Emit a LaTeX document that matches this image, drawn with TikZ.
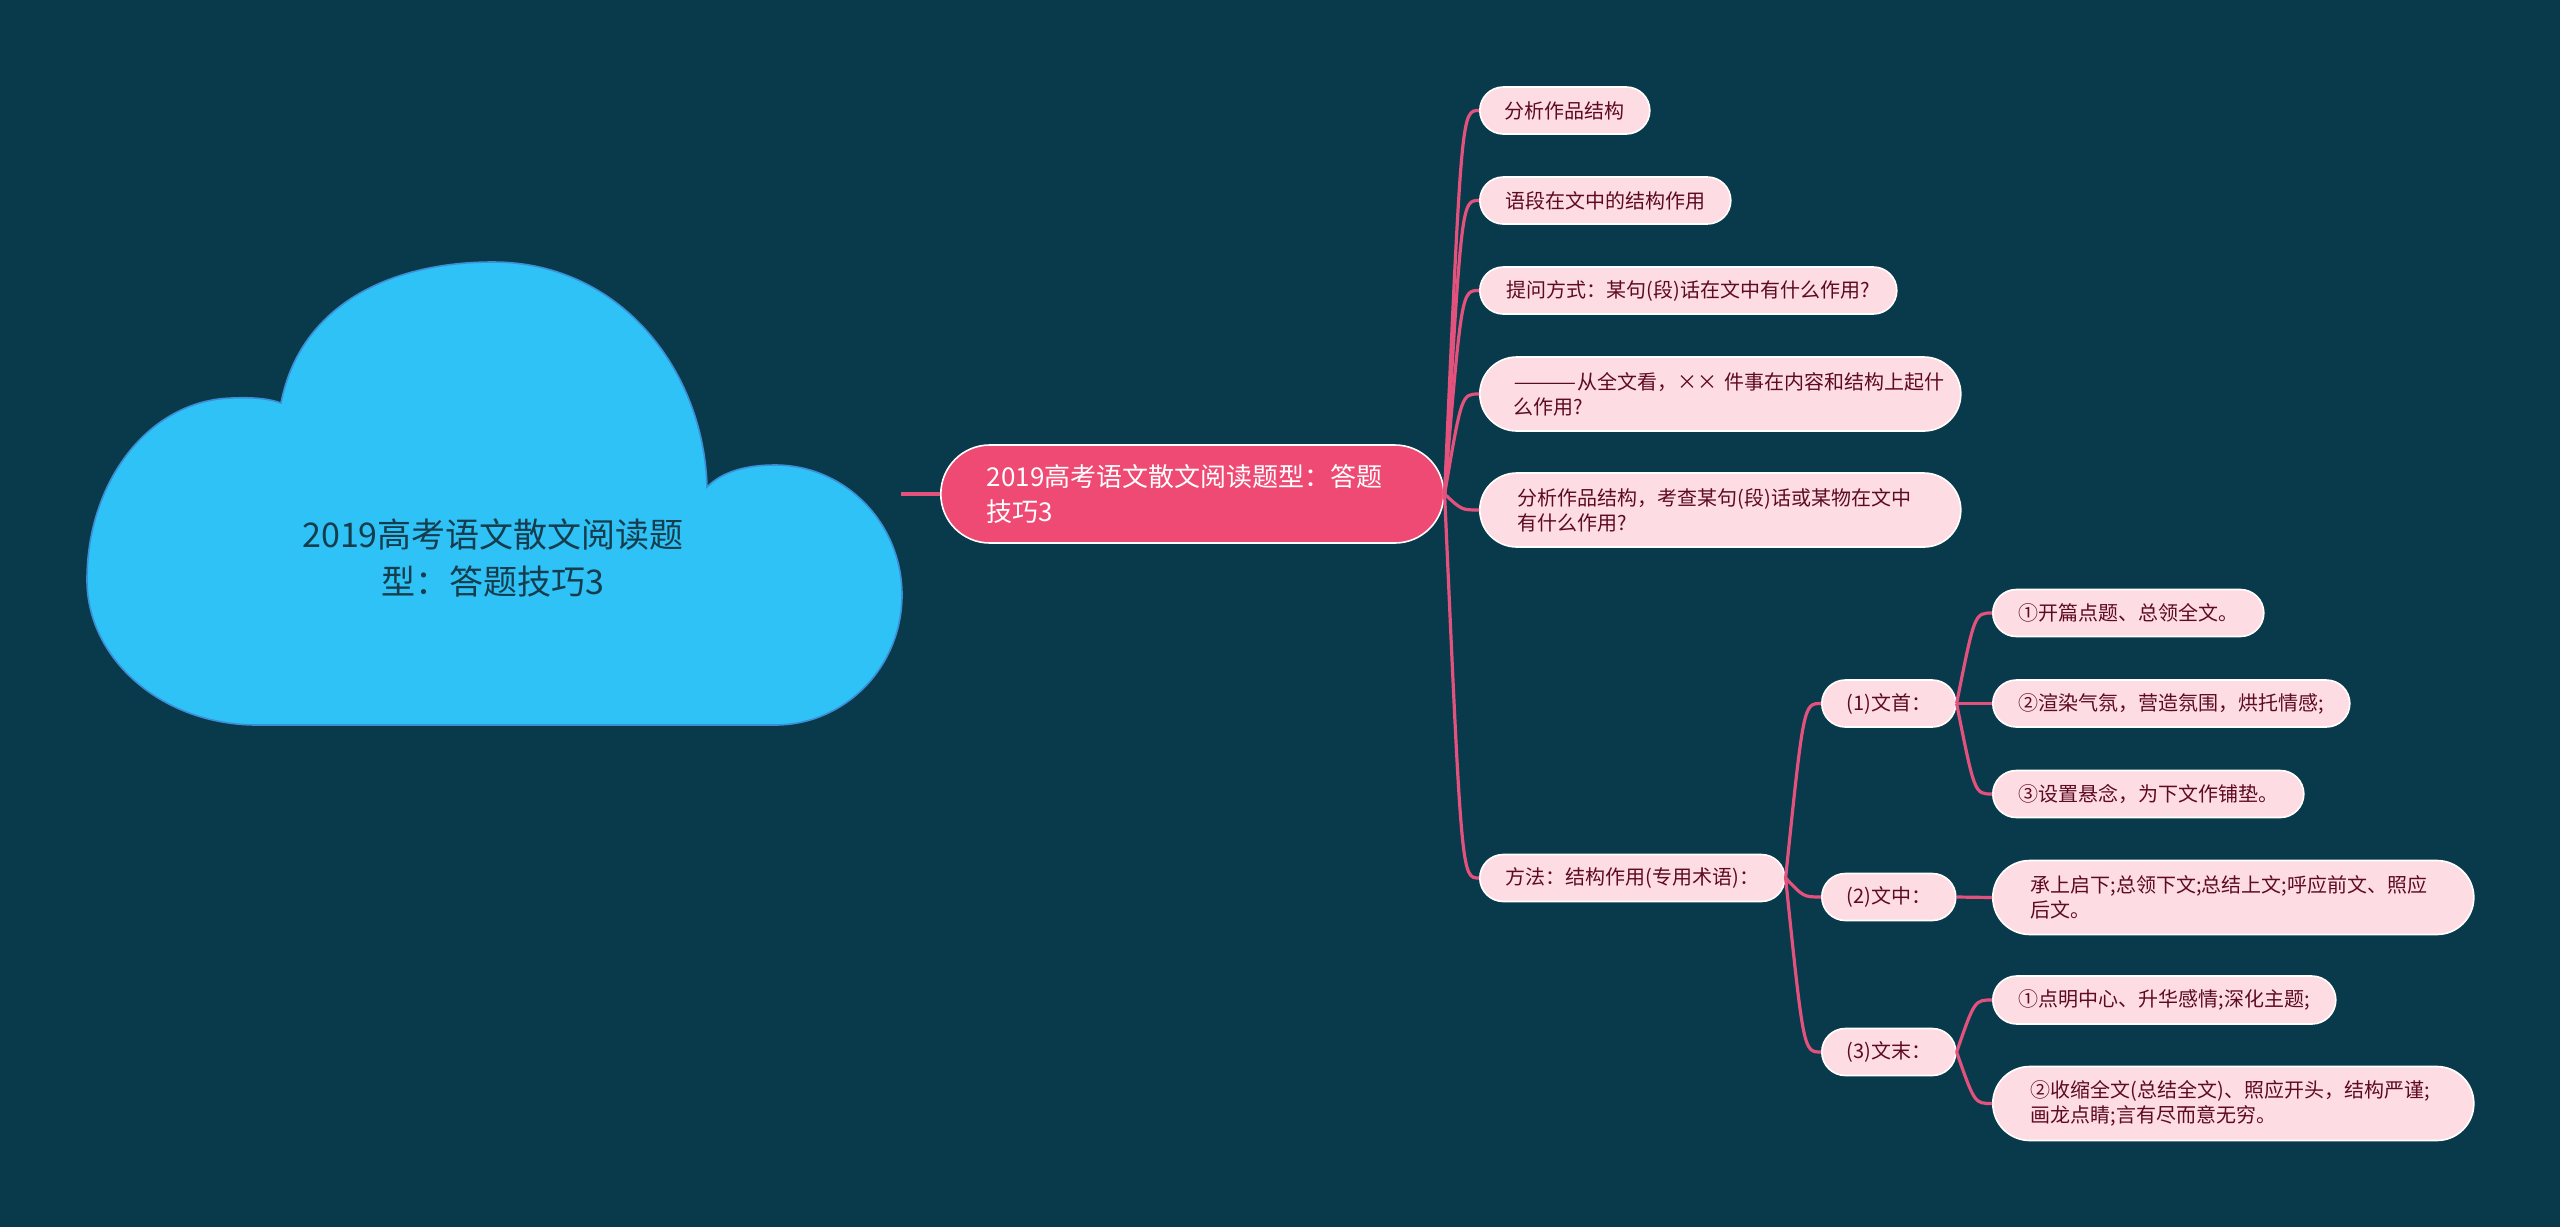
\documentclass[tikz,border=0pt]{standalone}
\usepackage{fontspec}
\usepackage{graphicx}
\newfontfamily\cjk{Noto Sans CJK SC}
\definecolor{bg}{HTML}{083A4C}
\definecolor{cloudfill}{HTML}{2EC2F6}
\definecolor{clouddraw}{HTML}{3C8FD6}
\definecolor{cloudtext}{HTML}{163D4D}
\definecolor{mainfill}{HTML}{EF4A73}
\definecolor{leaffill}{HTML}{FDDDE3}
\definecolor{leaftext}{HTML}{5E0A24}
\definecolor{linkc}{HTML}{E2527C}
\begin{document}
\begin{tikzpicture}[x=0.5pt,y=-0.5pt,
  leaf/.style={draw=white, line width=0.8pt, fill=leaffill, text=leaftext,
    rounded corners=11.75pt, minimum height=23.5pt, inner xsep=0pt, inner ysep=0pt,
    anchor=west, font=\cjk\fontsize{10}{12.5}\selectfont},
  leaftwo/.style={leaf, rounded corners=18.5pt, minimum height=37pt, inner xsep=19pt, align=left},
  mainbox/.style={draw=white, line width=0.8pt, fill=mainfill, text=white,
    rounded corners=24.5pt, minimum height=49pt, inner xsep=23pt, inner ysep=0pt,
    anchor=west, align=left, text width=205.5pt, font=\cjk\fontsize{13}{17.5}\selectfont},
  cloudlabel/.style={text=cloudtext, align=center, font=\cjk\fontsize{17}{23.5}\selectfont},
  link/.style={draw=linkc, line width=1.6pt}]
\useasboundingbox (0,0) rectangle (2560,1227);
\fill[bg] (0,0) rectangle (2560,1227);
% cloud
\filldraw[fill=cloudfill, draw=clouddraw, line width=0.8pt]
  (257,725) .. controls (163,725) and (87,660) .. (87,580)
  .. controls (87,480) and (150,400) .. (232,398)
  .. controls (255,397) and (270,399) .. (281,403)
  .. controls (300,305) and (390,262) .. (493,262)
  .. controls (620,262) and (704,370) .. (707,487)
  .. controls (722,472) and (745,465) .. (775,465)
  .. controls (845,465) and (902,523) .. (902,595)
  .. controls (902,667) and (845,725) .. (775,725) -- cycle;
\node[cloudlabel] (root) at (493,558) {2019高考语文散文阅读题\\型：答题技巧3};
\coordinate (cr) at (901,494);
% main
\node[mainbox] (m) at (940,494) {2019高考语文散文阅读题型：答题\\技巧3};
% level 1
\node[leaf, minimum width=85pt] (c1) at (1479,110.5) {分析作品结构};
\node[leaf, minimum width=125.5pt] (c2) at (1479,200.5) {语段在文中的结构作用};
\node[leaf, minimum width=208.5pt] (c3) at (1479,290.5) {提问方式：某句(段)话在文中有什么作用?};
\node[leaftwo, inner xsep=17pt, text width=206.5pt] (c4) at (1479,394) {\scalebox{1.9}[1]{——}从全文看，××~件事在内容和结构上起什\\么作用?};
\node[leaftwo, text width=202.5pt] (c5) at (1479,510) {分析作品结构，考查某句(段)话或某物在文中\\有什么作用?};
\node[leaf, minimum width=152.5pt] (c6) at (1479,878) {方法：结构作用(专用术语)：};
% level 2
\node[leaf, minimum width=67pt] (w1) at (1821,703.5) {(1)文首：};
\node[leaf, minimum width=67pt] (w2) at (1821,897) {(2)文中：};
\node[leaf, minimum width=67pt] (w3) at (1821,1052) {(3)文末：};
% level 3
\node[leaf, minimum width=135.5pt] (d1) at (1992,613) {①开篇点题、总领全文。};
\node[leaf, minimum width=178.5pt] (d2) at (1992,703.5) {②渲染气氛，营造氛围，烘托情感;};
\node[leaf, minimum width=155.5pt] (d3) at (1992,794) {③设置悬念，为下文作铺垫。};
\node[leaftwo, text width=202.5pt] (e1) at (1992,897.5) {承上启下;总领下文;总结上文;呼应前文、照应\\后文。};
\node[leaf, minimum width=171.5pt, minimum height=24pt, rounded corners=12pt] (f1) at (1992,1000) {①点明中心、升华感情;深化主题;};
\node[leaftwo, text width=202.5pt] (f2) at (1992,1103.5) {②收缩全文(总结全文)、照应开头，结构严谨;\\画龙点睛;言有尽而意无穷。};
% connectors
\draw[link] (cr) -- (m.west);
\coordinate (mk) at ([xshift=8.5pt]m.east);
\foreach \c in {c1,c2,c3,c4,c5,c6}
  \draw[link] (m.east) .. controls (mk |- \c.west) .. (\c.west);
\coordinate (fk) at ([xshift=9pt]c6.east);
\foreach \c in {w1,w2,w3}
  \draw[link] (c6.east) .. controls (fk |- \c.west) .. (\c.west);
\coordinate (k1) at ([xshift=9pt]w1.east);
\foreach \c in {d1,d2,d3}
  \draw[link] (w1.east) .. controls (k1 |- \c.west) .. (\c.west);
\draw[link] (w2.east) -- (e1.west);
\coordinate (k3) at ([xshift=9pt]w3.east);
\foreach \c in {f1,f2}
  \draw[link] (w3.east) .. controls (k3 |- \c.west) .. (\c.west);
\end{tikzpicture}
\end{document}
